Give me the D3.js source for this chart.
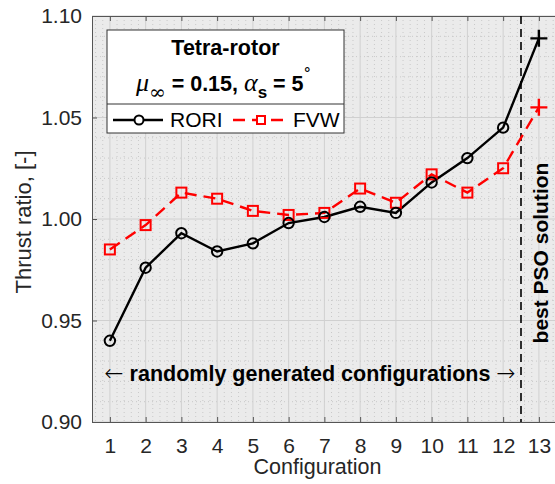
<!DOCTYPE html>
<html>
<head>
<meta charset="utf-8">
<script src="https://cdn.jsdelivr.net/npm/d3@7/dist/d3.min.js"></script>
<style>
  html, body { margin: 0; padding: 0; background: #ffffff; }
  svg { display: block; font-family: "Liberation Sans", Arial, Helvetica, sans-serif; }
</style>
</head>
<body>
<svg id="chart" width="555" height="484"></svg>
<script>
// Thrust ratio per configuration, two solvers
const configs = [1, 2, 3, 4, 5, 6, 7, 8, 9, 10, 11, 12, 13];
const rori = [0.940, 0.976, 0.993, 0.984, 0.988, 0.998, 1.001, 1.006, 1.003, 1.018, 1.030, 1.045, 1.089];
const fvw  = [0.985, 0.997, 1.013, 1.010, 1.004, 1.002, 1.003, 1.015, 1.008, 1.022, 1.013, 1.025, 1.055];
const yTicks = [0.90, 0.95, 1.00, 1.05, 1.10];
const xTicks = configs;
const bestIndex = 12;          // last configuration is the optimiser's pick
const splitAt = 12.5;          // boundary between random and optimised configs

const svg = d3.select("#chart");
const m = { left: 92, top: 16, bottom: 422 };
const x = d3.scaleLinear().domain([0.5, 13.5]).range([m.left, m.left + 13 * 35.75]);
const y = d3.scaleLinear().domain([0.90, 1.10]).range([m.bottom, m.top]);
const right = x.range()[1];

const axisCol = "#262626";

// plot background
svg.append("rect")
  .attr("x", m.left).attr("y", m.top)
  .attr("width", right - m.left).attr("height", m.bottom - m.top)
  .attr("fill", "#ebebeb");

// minor grid
const minorX = d3.range(0.6, 13.5, 0.2).filter(v => Math.abs(v - Math.round(v)) > 0.01);
const minorY = d3.range(0.90, 1.1001, 0.01).filter(v => Math.abs(v * 20 - Math.round(v * 20)) > 0.01);
const grid = svg.append("g");
grid.selectAll(".mx").data(minorX).join("line")
  .attr("x1", d => x(d)).attr("x2", d => x(d))
  .attr("y1", m.top).attr("y2", m.bottom)
  .attr("stroke", "#c9c9c9").attr("stroke-width", 1).attr("stroke-dasharray", "1,3");
grid.selectAll(".my").data(minorY).join("line")
  .attr("x1", m.left).attr("x2", right)
  .attr("y1", d => y(d)).attr("y2", d => y(d))
  .attr("stroke", "#c9c9c9").attr("stroke-width", 1).attr("stroke-dasharray", "1,3");

// major grid
grid.selectAll(".gx").data(xTicks).join("line")
  .attr("x1", d => x(d)).attr("x2", d => x(d))
  .attr("y1", m.top).attr("y2", m.bottom)
  .attr("stroke", "#d0d0d0").attr("stroke-width", 1);
grid.selectAll(".gy").data(yTicks).join("line")
  .attr("x1", m.left).attr("x2", right)
  .attr("y1", d => y(d)).attr("y2", d => y(d))
  .attr("stroke", "#d0d0d0").attr("stroke-width", 1);

// axes
const xAxis = svg.append("g")
  .attr("transform", `translate(0,${m.bottom})`)
  .call(d3.axisBottom(x).tickValues(xTicks).tickSizeInner(-5).tickSizeOuter(0).tickPadding(16).tickFormat(d3.format("d")));
const xTop = svg.append("g")
  .attr("transform", `translate(0,${m.top})`)
  .call(d3.axisTop(x).tickValues(xTicks).tickSizeInner(-5).tickSizeOuter(0).tickFormat(""));
const yAxis = svg.append("g")
  .attr("transform", `translate(${m.left},0)`)
  .call(d3.axisLeft(y).tickValues(yTicks).tickSizeInner(-5).tickSizeOuter(0).tickPadding(10).tickFormat(d3.format(".2f")));
[xAxis, xTop, yAxis].forEach(g => {
  g.attr("font-family", null);
  g.select(".domain").attr("stroke", "#555").attr("stroke-width", 1);
  g.selectAll(".tick line").attr("stroke", "#555");
  g.selectAll(".tick text").attr("fill", axisCol).attr("font-size", 21);
});

// axis titles
svg.append("text")
  .attr("x", (m.left + 539) / 2 + 2).attr("y", 474)
  .attr("text-anchor", "middle").attr("font-size", 21.5).attr("fill", axisCol)
  .text("Configuration");
svg.append("text")
  .attr("transform", `translate(31,${(m.top + m.bottom) / 2 + 3}) rotate(-90)`)
  .attr("text-anchor", "middle").attr("font-size", 22).attr("fill", axisCol)
  .text("Thrust ratio, [-]");

// separator between random and optimised configurations
svg.append("line")
  .attr("x1", x(splitAt)).attr("x2", x(splitAt))
  .attr("y1", m.top).attr("y2", m.bottom)
  .attr("stroke", "#000").attr("stroke-width", 1.6).attr("stroke-dasharray", "8,5");

// series
const line = d3.line().x((d, i) => x(configs[i])).y(d => y(d));
svg.append("path").datum(fvw).attr("d", line)
  .attr("fill", "none").attr("stroke", "#ff0000").attr("stroke-width", 2.4)
  .attr("stroke-dasharray", "12,7");
svg.append("path").datum(rori).attr("d", line)
  .attr("fill", "none").attr("stroke", "#000").attr("stroke-width", 2.4);

function plus(g, cx, cy, col) {
  g.append("path")
    .attr("d", `M${cx - 8.5},${cy}H${cx + 8.5}M${cx},${cy - 8.5}V${cy + 8.5}`)
    .attr("stroke", col).attr("stroke-width", 2.4).attr("fill", "none");
}

const mk = svg.append("g");
fvw.forEach((v, i) => {
  if (i === bestIndex) { plus(mk, x(configs[i]), y(v), "#ff0000"); return; }
  mk.append("rect")
    .attr("x", x(configs[i]) - 5).attr("y", y(v) - 5).attr("width", 10).attr("height", 10)
    .attr("fill", "none").attr("stroke", "#ff0000").attr("stroke-width", 2);
});
rori.forEach((v, i) => {
  if (i === bestIndex) { plus(mk, x(configs[i]), y(v), "#000"); return; }
  mk.append("circle")
    .attr("cx", x(configs[i])).attr("cy", y(v)).attr("r", 5.2)
    .attr("fill", "none").attr("stroke", "#000").attr("stroke-width", 2);
});

// annotations
const ann = svg.append("text")
  .attr("x", 310).attr("y", 381).attr("text-anchor", "middle")
  .attr("font-size", 21.5).attr("font-weight", "bold").attr("fill", "#000");
ann.append("tspan").attr("font-family", "'DejaVu Sans', sans-serif").attr("font-weight", 200)
  .attr("font-size", 23).text("\u2190");
ann.append("tspan").text(" randomly generated configurations ");
ann.append("tspan").attr("font-family", "'DejaVu Sans', sans-serif").attr("font-weight", 200)
  .attr("font-size", 23).text("\u2192");

svg.append("text")
  .attr("transform", `translate(548,253) rotate(-90)`)
  .attr("text-anchor", "middle")
  .attr("font-size", 21).attr("font-weight", "bold").attr("fill", "#000")
  .text("best PSO solution");

// legend with title
const lg = svg.append("g");
const L = { x0: 107, x1: 344, y0: 30, ySplit: 104, y1: 133 };
const cx = (L.x0 + L.x1) / 2;
lg.append("rect")
  .attr("x", L.x0).attr("y", L.y0).attr("width", L.x1 - L.x0).attr("height", L.y1 - L.y0)
  .attr("fill", "#fff").attr("stroke", "#333").attr("stroke-width", 1);
lg.append("line")
  .attr("x1", L.x0).attr("x2", L.x1).attr("y1", L.ySplit).attr("y2", L.ySplit)
  .attr("stroke", "#333").attr("stroke-width", 1);
lg.append("text")
  .attr("x", cx).attr("y", 55).attr("text-anchor", "middle")
  .attr("font-size", 21.5).attr("font-weight", "bold").attr("fill", "#000")
  .text("Tetra-rotor");

const t2 = lg.append("text")
  .attr("x", cx - 2).attr("y", 91).attr("text-anchor", "middle")
  .attr("font-size", 21.5).attr("fill", "#000");
const texSerif = "'Liberation Serif', 'DejaVu Serif', serif";
t2.append("tspan").attr("font-family", texSerif).attr("font-style", "italic").attr("font-size", 26).text("\u03bc");
t2.append("tspan").attr("font-family", "'DejaVu Serif', serif").attr("font-size", 20).attr("dy", 8).text("\u221e");
t2.append("tspan").attr("font-weight", "bold").attr("dy", -8).text(" = 0.15, ");
t2.append("tspan").attr("font-family", texSerif).attr("font-style", "italic").attr("font-size", 26).text("\u03b1");
t2.append("tspan").attr("font-weight", "bold").attr("font-size", 17).attr("dy", 7).text("s");
t2.append("tspan").attr("font-weight", "bold").attr("dy", -7).text(" = 5");
t2.append("tspan").attr("font-family", "'DejaVu Serif', serif").attr("font-size", 15).attr("dy", -13).text("\u00b0");

const ly = 120;
lg.append("line").attr("x1", 113).attr("x2", 163).attr("y1", ly).attr("y2", ly)
  .attr("stroke", "#000").attr("stroke-width", 2.4);
lg.append("circle").attr("cx", 139).attr("cy", ly).attr("r", 4.5)
  .attr("fill", "#fff").attr("stroke", "#000").attr("stroke-width", 2);
lg.append("text").attr("x", 170).attr("y", 127).attr("font-size", 21).attr("fill", "#000").text("RORI");
lg.append("line").attr("x1", 233).attr("x2", 286).attr("y1", ly).attr("y2", ly)
  .attr("stroke", "#ff0000").attr("stroke-width", 2.4).attr("stroke-dasharray", "12,7");
lg.append("rect").attr("x", 257).attr("y", ly - 4).attr("width", 8).attr("height", 8)
  .attr("fill", "#fff").attr("stroke", "#ff0000").attr("stroke-width", 2);
lg.append("text").attr("x", 293).attr("y", 127).attr("font-size", 21).attr("fill", "#000").text("FVW");
</script>
</body>
</html>
